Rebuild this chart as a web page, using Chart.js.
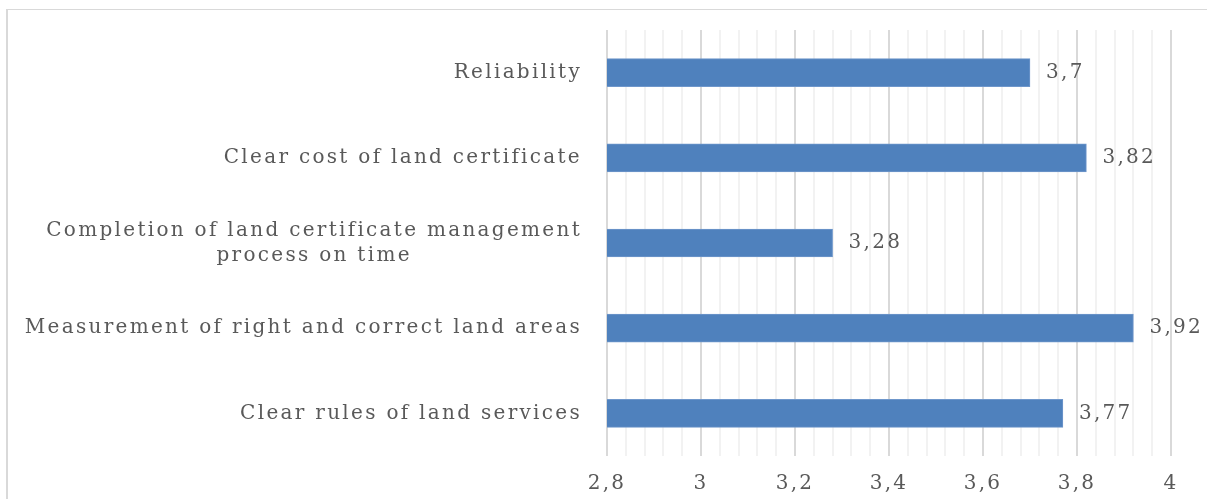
<!DOCTYPE html>
<html>
<head>
<meta charset="utf-8">
<script src="https://cdn.jsdelivr.net/npm/chart.js@4"></script>
<style>
  html, body { margin: 0; padding: 0; background: #fff; }
  #frame {
    position: absolute; left: 6px; top: 9px; width: 1201px; height: 490px;
    border-left: 2px solid #d9d9d9; border-top: 1px solid #d9d9d9; box-sizing: border-box;
  }
  #wrap { position: absolute; left: 0; top: 0; right: 0; bottom: 0; }
</style>
</head>
<body>
<div id="frame"><div id="wrap"><canvas id="chart"></canvas></div></div>
<script>
// ── Données ────────────────────────────────────────────────────────────────
const categories = [
  'Reliability',
  'Clear cost of land certificate',
  ['Completion of land certificate management', 'process on time'],
  'Measurement of right and correct land areas',
  'Clear rules of land services',
];
const scores = [3.7, 3.82, 3.28, 3.92, 3.77];

const AXIS_MIN  = 2.8;
const AXIS_MAX  = 4;
const MINOR     = 0.04;
const MAJOR     = 0.2;

const TEXT  = '#595959';
const FONT  = { family: '"DejaVu Serif", "Liberation Serif", serif', size: 20 };
const SPACE = '2.3px';

const isMajor = v => Math.abs(v / MAJOR - Math.round(v / MAJOR)) < 1e-6;
const fmt     = v => String(Math.round(v * 100) / 100).replace('.', ',');

// ── Plugins ────────────────────────────────────────────────────────────────

// espacement des lettres (le canvas perd l'état à chaque redimensionnement)
const spacing = {
  id: 'spacing',
  beforeUpdate: c => { c.ctx.letterSpacing = SPACE; },
  beforeDraw:   c => { c.ctx.letterSpacing = SPACE; },
};

// libellés sur plusieurs lignes : lignes centrées entre elles, bloc aligné à droite
const centerMultiline = {
  id: 'centerMultiline',
  beforeDraw(chart) {
    const { ctx } = chart;
    ctx.save();
    ctx.letterSpacing = SPACE;
    ctx.font = `${FONT.size}px ${FONT.family}`;
    chart.scales.y.getLabelItems().forEach(item => {
      if (!Array.isArray(item.label) || item._centered) return;
      const w = Math.max(...item.label.map(l => ctx.measureText(l).width));
      item.options.textAlign = 'center';
      item.options.translation[0] -= w / 2;
      item._centered = true;
    });
    ctx.restore();
  },
};

const valueLabels = {
  id: 'valueLabels',
  afterDatasetsDraw(chart) {
    const { ctx } = chart;
    const meta = chart.getDatasetMeta(0);
    ctx.save();
    ctx.letterSpacing = SPACE;
    ctx.fillStyle = TEXT;
    ctx.font = `${FONT.size}px ${FONT.family}`;
    ctx.textAlign = 'left';
    ctx.textBaseline = 'middle';
    meta.data.forEach((bar, i) => {
      ctx.fillText(fmt(scores[i]), bar.x + 16, bar.y);
    });
    ctx.restore();
  },
};

// pas de marge automatique des axes : la mise en page vient du padding
const noPad = s => { s.paddingTop = s.paddingBottom = s.paddingLeft = s.paddingRight = 0; };

// ── Graphique ──────────────────────────────────────────────────────────────
new Chart(document.getElementById('chart'), {
  type: 'bar',
  data: {
    labels: categories,
    datasets: [{
      data: scores,
      backgroundColor: '#4f81bd',
      borderColor: '#6f97cb',
      borderWidth: 1,
      barThickness: 28,
    }],
  },
  options: {
    indexAxis: 'y',
    responsive: true, maintainAspectRatio: false,
    animation: false,
    layout: { padding: { top: 20, right: 36, left: 0, bottom: 0 } },
    plugins: { legend: { display: false }, tooltip: { enabled: false } },
    scales: {
      x: {
        min: AXIS_MIN, max: AXIS_MAX,
        border: { display: false },
        grid: {
          drawTicks: false,
          lineWidth: 2,
          color: ctx => isMajor(ctx.tick.value) ? '#d9d9d9' : '#f2f2f2',
        },
        ticks: {
          stepSize: MINOR, autoSkip: false, maxRotation: 0,
          padding: 16, color: TEXT, font: FONT,
          callback: v => isMajor(v) ? fmt(v) : '',
        },
        afterFit: s => { s.height = 43; noPad(s); },
      },
      y: {
        border: { display: false },
        grid: { display: false },
        ticks: { padding: 17, color: TEXT, font: { ...FONT, lineHeight: 1.25 } },
        afterFit: s => { s.width = 599; noPad(s); },
      },
    },
  },
  plugins: [spacing, centerMultiline, valueLabels],
});
</script>
</body>
</html>
